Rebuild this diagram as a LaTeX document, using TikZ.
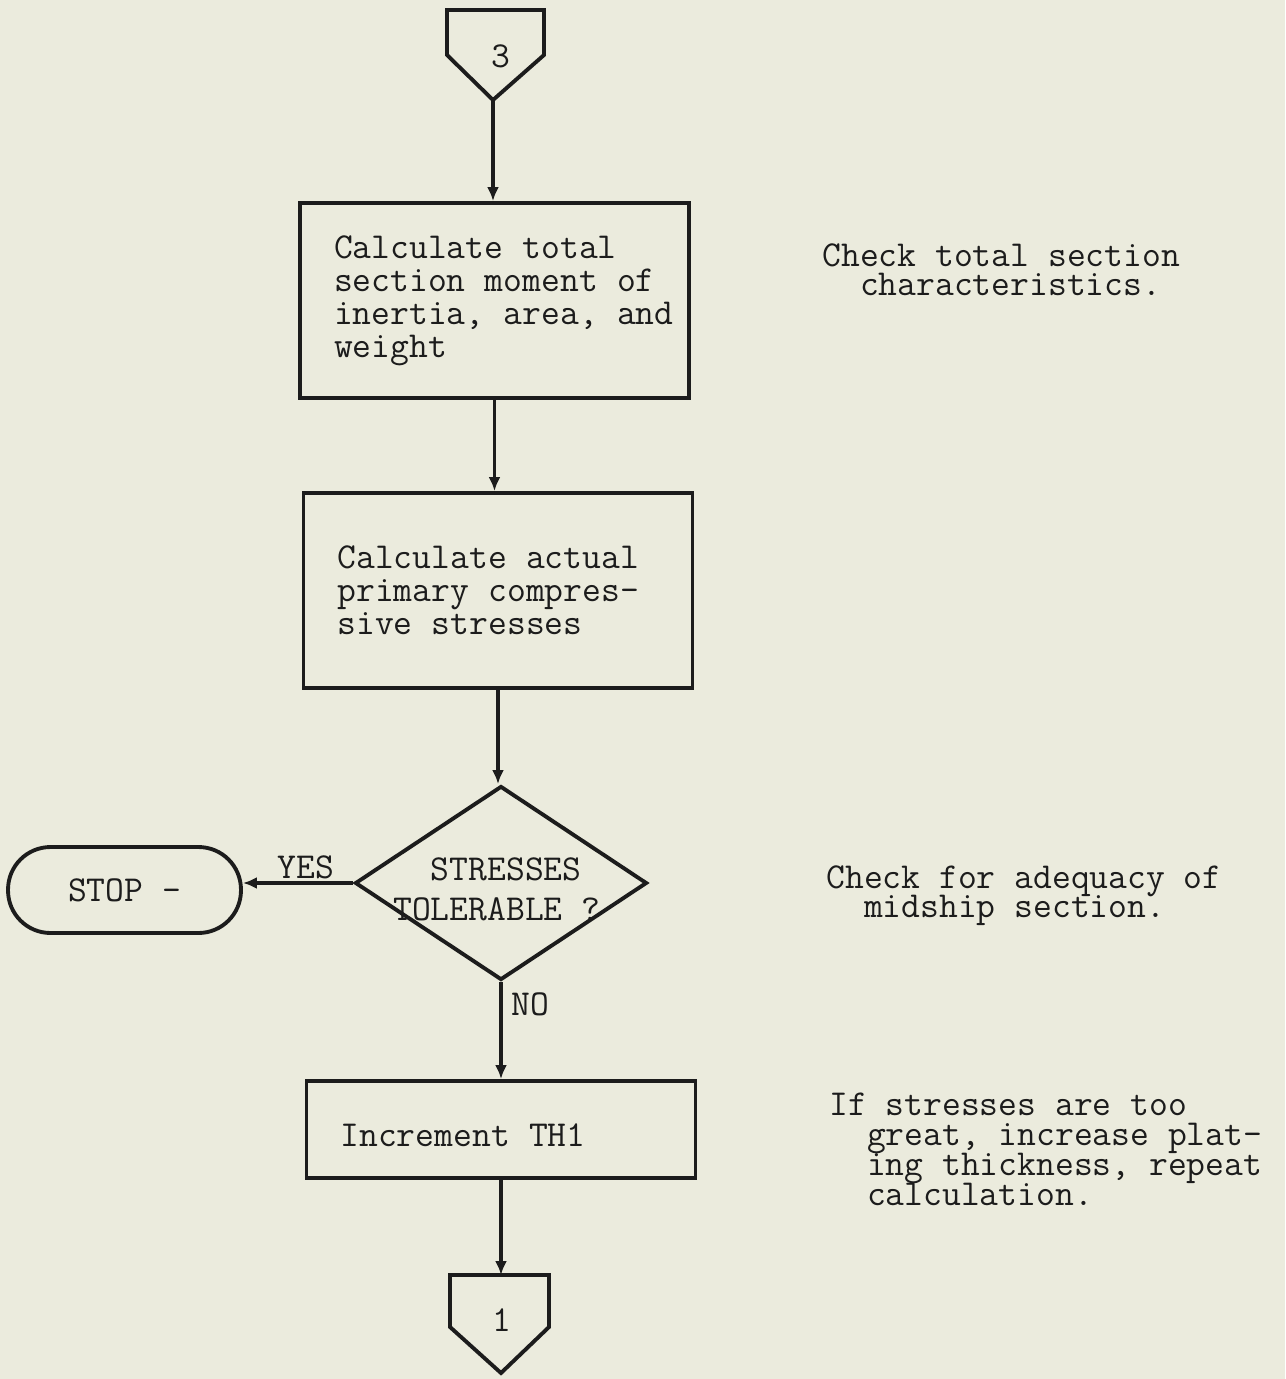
\documentclass[tikz,border=0pt]{standalone}
\usepackage{fontspec}
\usetikzlibrary{shapes.geometric,arrows.meta}
\definecolor{paper}{RGB}{235,235,221}
\definecolor{ink}{RGB}{28,28,28}
\newcommand\twfont[1]{\ttfamily\addfontfeatures{FakeBold=1.6}\fontsize{20.8}{#1}\selectfont\lineskiplimit=-30pt\relax}
\newcommand\fixsp{\spaceskip=0.525em\relax\xspaceskip=0.525em\relax}
\begin{document}
\begin{tikzpicture}[x=0.02cm,y=-0.02cm,
  line/.style={draw=ink,line width=2.2pt},
  arr/.style={draw=ink,line width=2.2pt,-{Latex[length=0.28cm,width=0.24cm]}},
  tw/.style={text=ink,font={\twfont{18.8}}},
  procbox/.style={line,tw,rectangle,minimum width=7.78cm,text width=6.42cm,inner xsep=0.68cm,inner ysep=0pt,align=left},
  note/.style={text=ink,font={\twfont{17}},inner sep=0pt,anchor=north west,align=left},
]
\fill[paper] (0,0) rectangle (1285,1379);
\useasboundingbox (0,0) rectangle (1285,1379);

% connector 3
\coordinate (c3tip) at (493,100);
\draw[line] (447,10) -- (544,10) -- (544,55) -- (c3tip) -- (447,55) -- cycle;
\node[tw] (c3) at (501,56) {3};

% process boxes
\node[procbox,minimum height=3.9cm] (b1) at (494.5,300.5) {\fixsp Calculate total\\section moment of\\\mbox{inertia, area, and}\\weight};
\node[procbox,minimum height=3.9cm] (b2) at (498,590.5) {\fixsp Calculate actual\\primary compres-\\sive stresses};

% decision
\node[diamond,line,minimum width=5.84cm,minimum height=3.88cm,inner sep=0pt] (d) at (501,883) {};
\node[note,font={\twfont{22.7}}] (dt) at (393,857) {\phantom{xx}STRESSES\\TOLERABLE ?};

% stop
\node[line,tw,rectangle,rounded corners=0.85cm,minimum width=4.66cm,minimum height=1.72cm] (stop) at (124.5,890) {STOP -};

\node[procbox,minimum height=1.94cm,text height=19.5pt,text depth=0pt] (b3) at (501,1129.5) {\fixsp Increment TH1};

% connector 1
\coordinate (c1top) at (501,1275);
\coordinate (c1tip) at (501,1373);
\draw[line] (450,1275) -- (549,1275) -- (549,1327) -- (c1tip) -- (450,1327) -- cycle;
\node[tw] (c1) at (502,1320) {1};

% connectors
\draw[arr] (c3tip) -- (c3tip |- b1.north);
\draw[arr] (b1.south) -- (b1.south |- b2.north);
\draw[arr] (b2.south) -- (b2.south |- d.north);
\draw[arr] (d.west) -- (d.west -| stop.east);
\draw[arr] (d.south) -- (d.south |- b3.north);
\draw[arr] (b3.south) -- (c1top);

\node[tw] (yes) at (306,867) {YES};
\node[tw,anchor=west,inner sep=0pt] (no) at (511,1004) {NO};

% annotations
\node[note] (n1) at (822,243) {Check total section\\\phantom{xx}characteristics.};
\node[note] (n2) at (826,865) {Check for adequacy of\\\phantom{xx}midship section.};
\node[note] (n3) at (829,1093) {If stresses are too\\\phantom{xx}great, increase plat-\\\phantom{xx}ing thickness, repeat\\\phantom{xx}calculation.};
\end{tikzpicture}
\end{document}
